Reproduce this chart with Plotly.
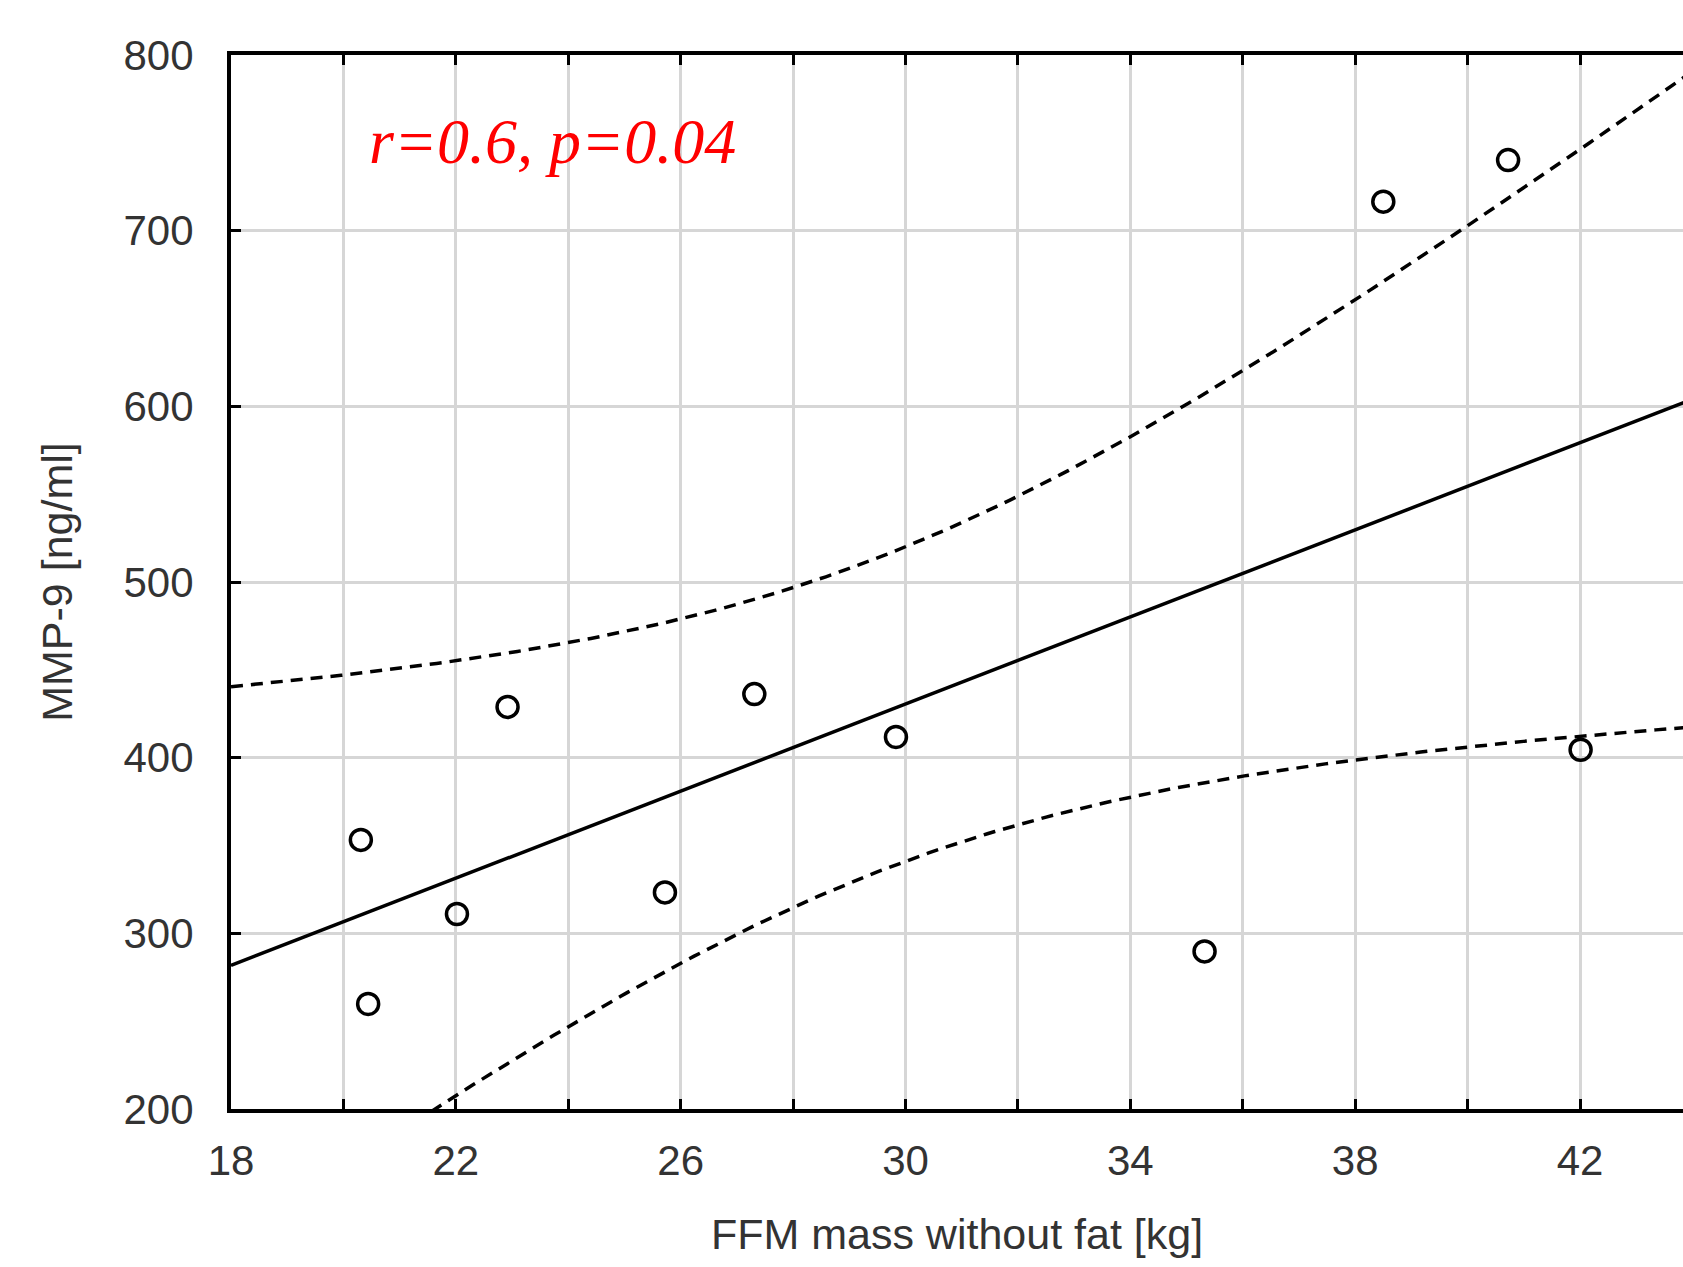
import numpy as np
import plotly.graph_objects as go

# FFM (fat-free mass, kg) and serum MMP-9 (ng/ml) for each subject
ffm_kg = [20.31, 20.44, 22.02, 22.92, 25.72, 27.31, 29.83, 35.32, 38.50, 40.72, 42.01]
mmp9_ng_ml = [353.2, 259.8, 311.0, 428.9, 323.3, 436.2, 411.8, 289.7, 716.5, 740.2, 404.5]

x_tick_vals = [18, 20, 22, 24, 26, 28, 30, 32, 34, 36, 38, 40, 42, 44]
x_tick_text = ["18", "", "22", "", "26", "", "30", "", "34", "", "38", "", "42", ""]
y_tick_vals = [200, 300, 400, 500, 600, 700, 800]
y_tick_text = ["200", "300", "400", "500", "600", "700", "800"]

stat_label = "r=0.6, p=0.04"

# Least-squares fit with a 95% confidence band for the mean response
x = np.array(ffm_kg)
y = np.array(mmp9_ng_ml)
n = len(x)
x_mean = x.mean()
sxx = ((x - x_mean) ** 2).sum()
slope = ((x - x_mean) * (y - y.mean())).sum() / sxx
intercept = y.mean() - slope * x_mean
resid = y - (intercept + slope * x)
s = np.sqrt((resid ** 2).sum() / (n - 2))
T_975_DF9 = 2.262

x_fit = np.linspace(18, 44, 200)
y_fit = intercept + slope * x_fit
half = T_975_DF9 * s * np.sqrt(1.0 / n + (x_fit - x_mean) ** 2 / sxx)

W, H = 1683, 1267
ML, MR, MT, MB = 231, 0, 55, 158
px_per_unit = 56.21
x_max = 18 + (W - ML - MR) / px_per_unit

fig = go.Figure()
dash = "12px,8px"
fig.add_trace(go.Scatter(x=x_fit, y=y_fit + half, mode="lines",
                         line=dict(color="black", width=3.5, dash=dash), hoverinfo="skip"))
fig.add_trace(go.Scatter(x=x_fit, y=y_fit - half, mode="lines",
                         line=dict(color="black", width=3.5, dash=dash), hoverinfo="skip"))
fig.add_trace(go.Scatter(x=x_fit, y=y_fit, mode="lines",
                         line=dict(color="black", width=3.5), hoverinfo="skip"))
fig.add_trace(go.Scatter(x=ffm_kg, y=mmp9_ng_ml, mode="markers",
                         marker=dict(symbol="circle-open", size=21, color="black",
                                     line=dict(color="black", width=3.5)),
                         cliponaxis=False))

tick_font = dict(family="Liberation Sans, Arial, sans-serif", size=42, color="#333333")
title_font = dict(family="Liberation Sans, Arial, sans-serif", size=43, color="#333333")

fig.update_layout(
    width=W, height=H,
    margin=dict(l=ML, r=MR, t=MT, b=MB, pad=0),
    paper_bgcolor="white", plot_bgcolor="white",
    showlegend=False,
    xaxis=dict(
        range=[18, x_max], tickmode="array", tickvals=x_tick_vals, ticktext=x_tick_text,
        ticks="inside", ticklen=10, tickwidth=3, tickcolor="black",
        showline=True, linecolor="black", linewidth=4, mirror="ticks",
        showgrid=True, gridcolor="#d6d6d6", gridwidth=3, zeroline=False,
        tickfont=tick_font, ticklabelstandoff=12,
        title=dict(text="FFM mass without fat [kg]", font=title_font, standoff=36),
    ),
    yaxis=dict(
        range=[200, 800], tickmode="array", tickvals=y_tick_vals, ticktext=y_tick_text,
        ticks="inside", ticklen=10, tickwidth=3, tickcolor="black",
        showline=True, linecolor="black", linewidth=4, mirror=False,
        showgrid=True, gridcolor="#d6d6d6", gridwidth=3, zeroline=False,
        tickfont=tick_font, ticklabelstandoff=25,
        title=dict(text="MMP-9 [ng/ml]", font=title_font, standoff=38),
    ),
    annotations=[dict(
        x=20.42, y=751, xref="x", yref="y", xanchor="left", yanchor="middle",
        text=stat_label, showarrow=False,
        font=dict(family="Liberation Serif, Times New Roman, serif", size=64,
                  color="#ff0000", style="italic"),
    )],
)

fig.write_html("out.html")
